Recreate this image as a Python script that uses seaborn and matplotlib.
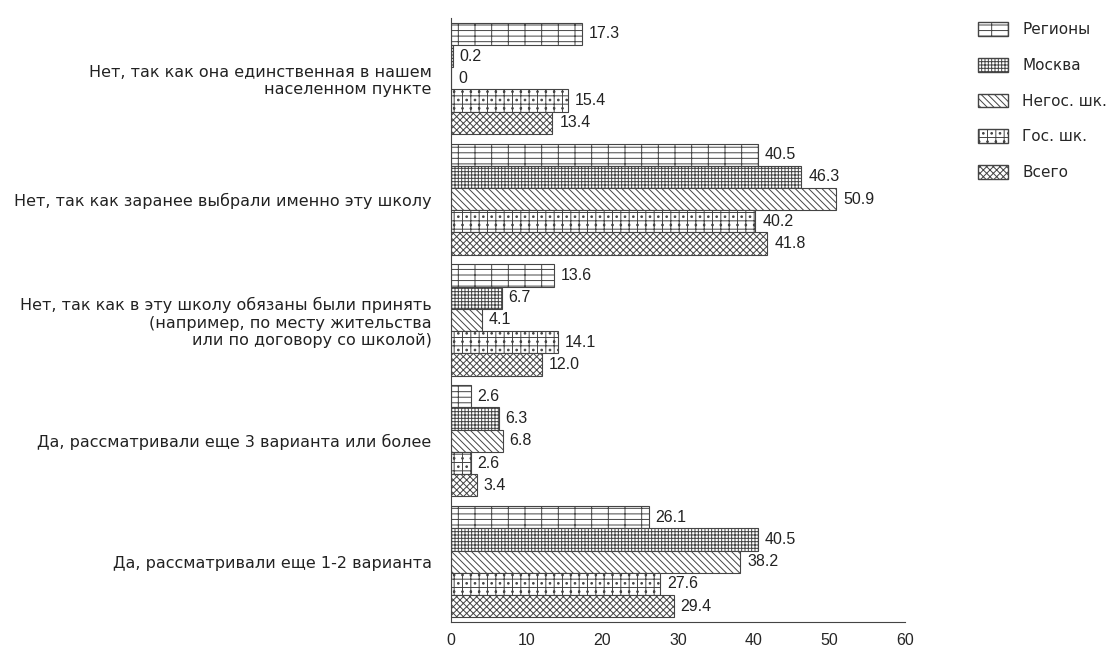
import pandas as pd
import matplotlib
matplotlib.use("Agg")
import matplotlib.pyplot as plt
import matplotlib.patches as mpatches
import seaborn as sns

categories = [
    "Нет, так как она единственная в нашем\nнаселенном пункте",
    "Нет, так как заранее выбрали именно эту школу",
    "Нет, так как в эту школу обязаны были принять\n(например, по месту жительства\nили по договору со школой)",
    "Да, рассматривали еще 3 варианта или более",
    "Да, рассматривали еще 1-2 варианта",
]
groups = ["Регионы", "Москва", "Негос. шк.", "Гос. шк.", "Всего"]

regiony = [17.3, 40.5, 13.6, 2.6, 26.1]
moskva = [0.2, 46.3, 6.7, 6.3, 40.5]
negos = [0.0, 50.9, 4.1, 6.8, 38.2]
gos = [15.4, 40.2, 14.1, 2.6, 27.6]
vsego = [13.4, 41.8, 12.0, 3.4, 29.4]

hatches = ["---|", "+++++", "\\\\\\\\\\", "++..", "xxxxx"]

sns.set_style("white")
plt.rcParams["font.family"] = ["Liberation Sans Narrow", "Liberation Sans", "DejaVu Sans"]
plt.rcParams["hatch.linewidth"] = 0.7
plt.rcParams["hatch.color"] = "#333333"

rows = []
for g, vals in zip(groups, [regiony, moskva, negos, gos, vsego]):
    for c, v in zip(categories, vals):
        rows.append({"category": c, "group": g, "value": v})
df = pd.DataFrame(rows)

fig = plt.figure(figsize=(11.17, 6.51), dpi=100)
ax = fig.add_axes([0.4038, 0.0445, 0.4065, 0.928])

sns.barplot(data=df, y="category", x="value", hue="group", order=categories,
            hue_order=groups, orient="h", width=0.92, ax=ax, legend=False,
            palette=["white"] * 5, edgecolor="#444444", linewidth=0.8, saturation=1)

for cont, h, vals in zip(ax.containers, hatches, [regiony, moskva, negos, gos, vsego]):
    for bar in cont:
        bar.set_hatch(h)
    labels = ["0" if v == 0 else f"{v:.1f}" for v in vals]
    ax.bar_label(cont, labels=labels, padding=5, fontsize=11.5, color="#222222")

ax.set_xlim(0, 60)
ax.set_ylim(4.5, -0.5)
ax.set_xticks(range(0, 61, 10))
ax.set_xlabel("")
ax.set_ylabel("")
ax.set_yticks(range(len(categories)))
ax.set_yticklabels(categories, fontsize=11.5, family=["DejaVu Sans"], color="#222222")
ax.set_yticks([0.5, 1.5, 2.5, 3.5], minor=True)
ax.tick_params(axis="y", which="major", length=0, pad=14)
ax.tick_params(axis="y", which="minor", length=4, direction="out", color="#444444")
ax.tick_params(axis="x", length=5, direction="out", color="#444444", labelsize=11.5,
               pad=3)
for lab in ax.get_yticklabels():
    lab.set_horizontalalignment("right")
for s in ["top", "right"]:
    ax.spines[s].set_visible(False)
ax.spines["left"].set_color("#444444")
ax.spines["bottom"].set_color("#444444")

handles = [mpatches.Patch(facecolor="white", edgecolor="#444444", hatch=h, label=g)
           for g, h in zip(groups, hatches)]
fig.legend(handles=handles, loc="upper left", bbox_to_anchor=(0.863, 0.987),
           frameon=False, labelspacing=1.35, handlelength=2.0,
           handleheight=1.0, handletextpad=0.9,
           prop={"family": ["DejaVu Sans"], "size": 11})

fig.savefig("out.png", dpi=100)
